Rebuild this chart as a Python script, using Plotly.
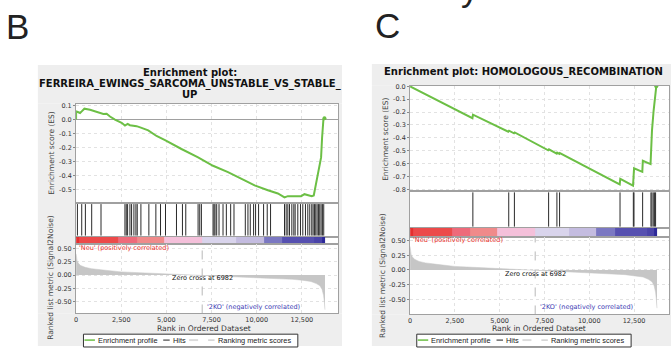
import plotly.graph_objects as go

W, H = 671, 348

# ---------------- data ----------------
n_genes = 13780
zero_cross = 6982

# ranked list metric (shared ranked list)
metric_rank = [0, 20, 60, 130, 250, 500, 860, 1500, 2500, 3500, 5000, 6000, 6982,
               8000, 9000, 10000, 11000, 12000, 12500, 13000, 13300, 13500, 13620,
               13700, 13750, 13780]
metric_val = [0.40, 0.32, 0.26, 0.22, 0.18, 0.145, 0.12, 0.095, 0.06, 0.045, 0.025,
              0.012, 0.0, -0.02, -0.035, -0.05, -0.065, -0.08, -0.095, -0.12, -0.16,
              -0.2, -0.27, -0.38, -0.52, -0.65]

# colour bar bands of the ranked list
band_edges = [0, 150, 2320, 3370, 4870, 6980, 8850, 10400, 11420, 13200, 13600, 13780]
band_colors = ["#e42f2f", "#ec4a4a", "#ee6a7a", "#f08a8a", "#f4c0da", "#d9d4ec",
               "#c4bce0", "#7b78c2", "#5650b0", "#4a44a8", "#2c2898"]

# panel B
title_b = ["Enrichment plot:", "FERREIRA_EWINGS_SARCOMA_UNSTABLE_VS_STABLE_", "UP"]
hits_b = [74, 313, 515, 865, 1380, 2705, 2779, 2853, 2981, 3073, 3202, 3313, 3386,
          3589, 4030, 4417, 4675, 4951, 5558, 5889, 6073, 6754, 6846, 6938, 7582,
          7638, 7693, 7785, 7914, 8135, 8319, 8558, 8742, 9368, 9515, 9644, 9828,
          9938, 10104, 10380, 10582, 10766, 11539, 11631, 11723, 11815, 11944, 12055,
          12128, 12275, 12423, 12552, 12699, 12828, 12938, 13048, 13122, 13196, 13270,
          13343, 13417, 13490, 13564, 13637, 13711]
es_b_rank = [0, 0, 92, 220, 313, 460, 773, 957, 1141, 1325, 1509, 1693, 1877, 2153,
             2521, 2705, 2853, 2981, 3350, 3626, 3994, 4454, 4950, 5834, 6754, 7582,
             8410, 9331, 9883, 10619, 11171, 11539, 11723, 12091, 12459, 12643, 12827,
             13048, 13159, 13233, 13343, 13472, 13564, 13619, 13692, 13750]
es_b_val = [0.0, 0.059, 0.054, 0.047, 0.059, 0.078, 0.07, 0.063, 0.054, 0.045, 0.04,
            0.042, 0.022, 0.0, -0.023, -0.042, -0.03, -0.04, -0.047, -0.059, -0.077,
            -0.117, -0.148, -0.21, -0.27, -0.33, -0.375, -0.434, -0.47, -0.505, -0.528,
            -0.556, -0.547, -0.547, -0.547, -0.533, -0.54, -0.547, -0.542, -0.49, -0.43,
            -0.35, -0.27, -0.13, 0.0, 0.01]
b_es_ticks = [0.1, 0.0, -0.1, -0.2, -0.3, -0.4, -0.5]

# panel C
title_c = "Enrichment plot: HOMOLOGOUS_RECOMBINATION"
hits_c = [3504, 5506, 5822, 7731, 8195, 8343, 11717, 12459, 12496, 12978, 13442,
          13497, 13571, 13645, 13701]
es_c_rank = [0, 3480, 3510, 5480, 5520, 5800, 5840, 7710, 7750, 8180, 8210, 8330, 8360,
             11700, 11730, 12440, 12470, 12500, 12960, 12990, 13420, 13450, 13500,
             13590, 13700, 13740]
es_c_val = [0.0, -0.247, -0.220, -0.352, -0.345, -0.365, -0.358, -0.497, -0.490,
            -0.523, -0.515, -0.525, -0.518, -0.762, -0.718, -0.772, -0.706, -0.637,
            -0.664, -0.578, -0.604, -0.48, -0.344, -0.19, 0.0, 0.0]
c_es_ticks = [0.0, -0.1, -0.2, -0.3, -0.4, -0.5, -0.6, -0.7, -0.8]

x_ticks = [0, 2500, 5000, 7500, 10000, 12500]
metric_ticks = [0.5, 0.25, 0.0, -0.25, -0.5]

# ---------------- helpers ----------------
def pxx(p):
    return p / W


def pxy(p):
    return 1 - p / H


GREEN = "#6cbf45"
GREY = "#eeeeee"
FONT = "DejaVu Sans"
fig = go.Figure()


def grey_rect(x0, x1, y0, y1):
    fig.add_shape(type="rect", xref="paper", yref="paper", x0=pxx(x0), x1=pxx(x1),
                  y0=pxy(y1), y1=pxy(y0), fillcolor=GREY, line_width=0,
                  layer="below")


def build_panel(idx0, gx0, gx1, gy0, xl, xr, es_top, es_bot, hits_bot, cb_bot, met_bot,
                xmax, es_range, es_ticks, met_range, es_rank, es_val, hits):
    # grey frame around the white plotting area (four strips)
    grey_rect(gx0, gx1, gy0, es_top)
    grey_rect(gx0, xl, es_top, met_bot)
    grey_rect(xr, gx1, es_top, met_bot)
    grey_rect(gx0, gx1, met_bot, H)

    a = [str(idx0 + i) if idx0 + i > 1 else "" for i in range(4)]
    xa = ["x" + s for s in a]
    ya = ["y" + s for s in a]
    xdom = [pxx(xl), pxx(xr)]
    # white background inside every sub-plot
    for xx, yy in zip(xa, ya):
        fig.add_shape(type="rect", xref=xx + " domain", yref=yy + " domain",
                      x0=0, x1=1, y0=0, y1=1, fillcolor="white", line_width=0,
                      layer="below")
    # ES curve
    fig.add_trace(go.Scatter(x=es_rank, y=es_val, mode="lines",
                             line=dict(color=GREEN, width=2),
                             xaxis=xa[0], yaxis=ya[0], showlegend=False,
                             hoverinfo="skip"))
    fig.add_trace(go.Scatter(x=[es_rank[-1]], y=[es_val[-1]], mode="markers",
                             marker=dict(color=GREEN, size=4),
                             xaxis=xa[0], yaxis=ya[0], showlegend=False))
    # hits
    hx, hy = [], []
    for h in hits:
        hx += [h, h, None]
        hy += [0.03, 0.97, None]
    fig.add_trace(go.Scatter(x=hx, y=hy, mode="lines",
                             line=dict(color="#2a2a2a", width=1),
                             xaxis=xa[1], yaxis=ya[1], showlegend=False))
    # colour bar
    n = len(band_colors)
    fig.add_trace(go.Heatmap(z=[list(range(n))], x=band_edges, y=[0, 1],
                             colorscale=[[i / (n - 1), c] for i, c in enumerate(band_colors)],
                             zmin=0, zmax=n - 1, showscale=False,
                             xaxis=xa[2], yaxis=ya[2]))
    # metric
    fig.add_trace(go.Scatter(x=metric_rank, y=metric_val, mode="lines",
                             fill="tozeroy", fillcolor="#c6c6c6",
                             line=dict(color="#c6c6c6", width=0.5),
                             xaxis=xa[3], yaxis=ya[3], showlegend=False))
    fig.add_trace(go.Scatter(x=[zero_cross, zero_cross], y=met_range, mode="lines",
                             line=dict(color="#b8b8b8", width=1, dash="dash"),
                             xaxis=xa[3], yaxis=ya[3], showlegend=False))

    common_x = dict(range=[0, xmax], domain=xdom, showline=True, mirror=True,
                    linecolor="#a0a0a0", linewidth=1, zeroline=False,
                    tickvals=x_ticks, fixedrange=True)
    grid = dict(showgrid=True, gridcolor="#e2e2e2", griddash="dot", gridwidth=1)
    tf = dict(size=6.5, color="#333", family=FONT)
    lay = {}
    lay["xaxis" + a[0]] = dict(**common_x, **grid, showticklabels=False,
                               anchor=ya[0], ticks="")
    lay["yaxis" + a[0]] = dict(range=es_range, domain=[pxy(es_bot), pxy(es_top)],
                               anchor=xa[0], showline=True, mirror=True,
                               linecolor="#a0a0a0", tickvals=es_ticks,
                               ticktext=["%.1f" % v for v in es_ticks],
                               ticks="outside", ticklen=2,
                               tickcolor="#888", zeroline=True,
                               zerolinecolor="#a0a0a0", zerolinewidth=1,
                               tickfont=tf, **grid)
    lay["xaxis" + a[1]] = dict(**common_x, showgrid=False, showticklabels=False,
                               anchor=ya[1], ticks="")
    lay["yaxis" + a[1]] = dict(range=[0, 1], domain=[pxy(hits_bot), pxy(es_bot)],
                               anchor=xa[1], showline=True, mirror=True,
                               linecolor="#a0a0a0", showgrid=False,
                               showticklabels=False, ticks="", zeroline=False)
    lay["xaxis" + a[2]] = dict(**common_x, showgrid=False, showticklabels=False,
                               anchor=ya[2], ticks="")
    lay["yaxis" + a[2]] = dict(range=[0, 1], domain=[pxy(cb_bot), pxy(hits_bot)],
                               anchor=xa[2], showline=True, mirror=True,
                               linecolor="#a0a0a0", showgrid=False,
                               showticklabels=False, ticks="", zeroline=False)
    lay["xaxis" + a[3]] = dict(**common_x, **grid, anchor=ya[3], ticks="",
                               tickformat=",", tickfont=tf)
    lay["yaxis" + a[3]] = dict(range=met_range, domain=[pxy(met_bot), pxy(cb_bot)],
                               anchor=xa[3], showline=True, mirror=True,
                               linecolor="#a0a0a0", tickvals=metric_ticks,
                               ticktext=["%.2f" % v for v in metric_ticks],
                               ticks="outside", ticklen=2,
                               tickcolor="#888", zeroline=False,
                               tickfont=tf, **grid)
    fig.update_layout(**lay)

    # annotations for metric panel
    anns = [
        dict(text="'Neu' (positively correlated)", xref=xa[3], yref=ya[3] + " domain",
             x=40, y=0.95, xanchor="left", yanchor="middle", showarrow=False,
             font=dict(size=6.5, color="#e8302c", family=FONT)),
        dict(text="Zero cross at " + str(zero_cross), xref=xa[3],
             yref=ya[3] + " domain", x=zero_cross, y=0.52, xanchor="center",
             yanchor="middle", showarrow=False,
             font=dict(size=6.5, color="#111", family=FONT)),
        dict(text="'2KO' (negatively correlated)", xref=xa[3],
             yref=ya[3] + " domain", x=zero_cross + 180, y=0.1, xanchor="left",
             yanchor="middle", showarrow=False,
             font=dict(size=6.5, color="#3c3cb4", family=FONT)),
    ]
    for an in anns:
        fig.add_annotation(**an)


build_panel(1, 36, 341, 63, 74.3, 337, 102, 203, 237, 245, 315, 14500,
            [-0.5965, 0.1148], b_es_ticks, [-0.72, 0.574],
            es_b_rank, es_b_val, hits_b)
build_panel(5, 371, 671, 62, 409.3, 669, 84, 191, 228, 237, 316, 14450,
            [-0.815, 0.004], c_es_ticks, [-0.757, 0.567],
            es_c_rank, es_c_val, hits_c)


def ann_px(text, x, y, size, color="#111", bold=False, angle=0, xanchor="center",
           family=FONT, yanchor="middle"):
    fig.add_annotation(text=("<b>%s</b>" % text) if bold else text, xref="paper",
                       yref="paper", x=pxx(x), y=pxy(y), xanchor=xanchor,
                       yanchor=yanchor, showarrow=False, textangle=angle,
                       font=dict(size=size, color=color, family=family))


# titles
for i, t in enumerate(title_b):
    ann_px(t, 188.5, 70.7 + 11 * i, 10, bold=True)
ann_px(title_c, 523, 70, 10, bold=True)

# axis titles
ann_px("Enrichment score (ES)", 50, 152, 7.5, color="#444", angle=-90)
ann_px("Ranked list metric (Signal2Noise)", 48, 278, 7.5, color="#444", angle=-90)
ann_px("Rank in Ordered Dataset", 203, 330.5, 7.6, color="#333")
ann_px("Enrichment score (ES)", 384, 138, 7.5, color="#444", angle=-90)
ann_px("Ranked list metric (Signal2Noise)", 381, 276, 7.5, color="#444", angle=-90)
ann_px("Rank in Ordered Dataset", 539, 330.5, 7.6, color="#333")

# panel letters and the clipped caption character above panel C
ann_px("B", 16, 24, 35, color="#222", family="Liberation Sans")
ann_px("C", 387, 23, 35, color="#222", family="Liberation Sans")
ann_px("y", 469, 7, 35, color="#222", family="Liberation Sans", yanchor="bottom")


# manual legends
LEG_FONT = "Liberation Sans"


def legend(x0):
    y = 342
    fig.add_shape(type="rect", xref="paper", yref="paper", x0=pxx(x0),
                  x1=pxx(x0 + 215), y0=pxy(349), y1=pxy(336),
                  line=dict(color="#333", width=1), fillcolor="white")
    fig.add_shape(type="line", xref="paper", yref="paper", x0=pxx(x0 + 1),
                  x1=pxx(x0 + 11.5), y0=pxy(y), y1=pxy(y),
                  line=dict(color=GREEN, width=1.5))
    ann_px("Enrichment profile", x0 + 12.5, y, 7.4, color="#222", xanchor="left",
           family=LEG_FONT)
    fig.add_shape(type="line", xref="paper", yref="paper", x0=pxx(x0 + 80),
                  x1=pxx(x0 + 86.5), y0=pxy(y), y1=pxy(y),
                  line=dict(color="#222", width=1))
    ann_px("Hits", x0 + 87.5, y, 7.4, color="#222", xanchor="left", family=LEG_FONT)
    fig.add_shape(type="rect", xref="paper", yref="paper", x0=pxx(x0 + 106),
                  x1=pxx(x0 + 115), y0=pxy(y + 1), y1=pxy(y - 1),
                  line_width=0, fillcolor="#dcdcdc")
    fig.add_shape(type="line", xref="paper", yref="paper", x0=pxx(x0 + 125),
                  x1=pxx(x0 + 131.5), y0=pxy(y), y1=pxy(y),
                  line=dict(color="#bbbbbb", width=1))
    ann_px("Ranking metric scores", x0 + 133, y, 7.4, color="#222", xanchor="left",
           family=LEG_FONT)


legend(81.7)
legend(416)

fig.update_layout(width=W, height=H, margin=dict(l=0, r=0, t=0, b=0),
                  paper_bgcolor="white", plot_bgcolor="white", showlegend=False,
                  font=dict(family=FONT))

fig.write_html("out.html", config={"displayModeBar": False, "staticPlot": True},
               post_script="document.body.style.margin='0px';"
                           "document.body.style.padding='0px';"
                           "document.body.style.overflow='hidden';")
